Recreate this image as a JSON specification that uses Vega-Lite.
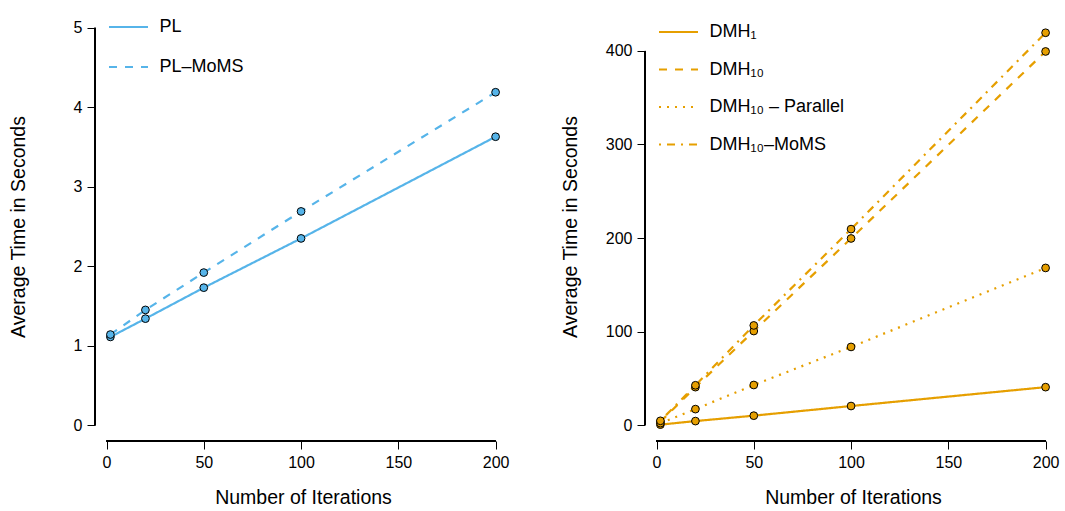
{
  "$schema": "https://vega.github.io/schema/vega-lite/v6.json",
  "padding": {"left": 8, "top": 6, "right": 2, "bottom": 2},
  "background": "white",
  "bounds": "flush",
  "spacing": 134,
  "config": {
    "view": {"stroke": null},
    "font": "Liberation Sans",
    "axis": {
      "grid": false, "domain": false, "tickColor": "black", "tickSize": 8, "tickWidth": 1,
      "labelFont": "Liberation Sans", "labelFontSize": 16, "labelColor": "black", "labelPadding": 5,
      "titleFont": "Liberation Sans", "titleFontSize": 19.5, "titleFontWeight": "normal", "titleColor": "black"
    },
    "legend": {
      "orient": "none", "title": null, "symbolType": "stroke", "symbolSize": 1521, "symbolStrokeWidth": 2.2,
      "labelFont": "Liberation Sans", "labelFontSize": 18, "labelColor": "black", "labelOffset": 10,
      "padding": 0
    }
  },
  "datasets": {
    "pl": [
      {"iter": 2, "time": 1.11, "method": "PL"},
      {"iter": 20, "time": 1.34, "method": "PL"},
      {"iter": 50, "time": 1.73, "method": "PL"},
      {"iter": 100, "time": 2.35, "method": "PL"},
      {"iter": 200, "time": 3.63, "method": "PL"},
      {"iter": 2, "time": 1.14, "method": "PL–MoMS"},
      {"iter": 20, "time": 1.45, "method": "PL–MoMS"},
      {"iter": 50, "time": 1.92, "method": "PL–MoMS"},
      {"iter": 100, "time": 2.69, "method": "PL–MoMS"},
      {"iter": 200, "time": 4.19, "method": "PL–MoMS"}
    ],
    "dmh": [
      {"iter": 2, "time": 0.4, "method": "DMH₁"},
      {"iter": 20, "time": 4.2, "method": "DMH₁"},
      {"iter": 50, "time": 10, "method": "DMH₁"},
      {"iter": 100, "time": 20.3, "method": "DMH₁"},
      {"iter": 200, "time": 40.5, "method": "DMH₁"},
      {"iter": 2, "time": 3.5, "method": "DMH₁₀"},
      {"iter": 20, "time": 40.5, "method": "DMH₁₀"},
      {"iter": 50, "time": 100.5, "method": "DMH₁₀"},
      {"iter": 100, "time": 199.5, "method": "DMH₁₀"},
      {"iter": 200, "time": 399.5, "method": "DMH₁₀"},
      {"iter": 2, "time": 2, "method": "DMH₁₀ – Parallel"},
      {"iter": 20, "time": 17, "method": "DMH₁₀ – Parallel"},
      {"iter": 50, "time": 42.8, "method": "DMH₁₀ – Parallel"},
      {"iter": 100, "time": 83.5, "method": "DMH₁₀ – Parallel"},
      {"iter": 200, "time": 168, "method": "DMH₁₀ – Parallel"},
      {"iter": 2, "time": 4.5, "method": "DMH₁₀–MoMS"},
      {"iter": 20, "time": 42.5, "method": "DMH₁₀–MoMS"},
      {"iter": 50, "time": 106.5, "method": "DMH₁₀–MoMS"},
      {"iter": 100, "time": 209.5, "method": "DMH₁₀–MoMS"},
      {"iter": 200, "time": 419.5, "method": "DMH₁₀–MoMS"}
    ]
  },
  "hconcat": [
    {
      "width": 416, "height": 429,
      "data": {"name": "pl"},
      "encoding": {
        "x": {"field": "iter", "type": "quantitative", "title": "Number of Iterations",
          "scale": {"domain": [-5.92, 207.92], "nice": false, "zero": false},
          "axis": {"values": [0, 50, 100, 150, 200], "titleY": 56, "titleBaseline": "middle"}},
        "y": {"field": "time", "type": "quantitative", "title": "Average Time in Seconds",
          "scale": {"domain": [-0.2, 5.2], "nice": false, "zero": false},
          "axis": {"values": [0, 1, 2, 3, 4, 5], "titleX": -77, "titleBaseline": "middle", "titleAngle": -90}}
      },
      "layer": [
        {"mark": {"type": "rule", "color": "black", "strokeWidth": 1},
         "encoding": {"x": {"datum": 0}, "x2": {"datum": 200}, "y": {"datum": -0.2}}},
        {"mark": {"type": "rule", "color": "black", "strokeWidth": 1},
         "encoding": {"x": {"datum": -5.92}, "y": {"datum": 0}, "y2": {"datum": 5}}},
        {"mark": {"type": "line", "color": "#56B4E9", "strokeWidth": 2.2},
         "encoding": {
           "detail": {"field": "method"},
           "strokeDash": {"field": "method", "type": "nominal",
             "scale": {"domain": ["PL", "PL–MoMS"], "range": [[1, 0], [8, 8]]},
             "legend": {"legendX": 12.5, "legendY": -6, "rowPadding": 10, "symbolStrokeColor": "#56B4E9"}}
         }},
        {"mark": {"type": "point", "filled": true, "fill": "#56B4E9", "stroke": "black", "strokeWidth": 1, "size": 60, "opacity": 1}}
      ]
    },
    {
      "width": 416, "height": 429,
      "data": {"name": "dmh"},
      "encoding": {
        "x": {"field": "iter", "type": "quantitative", "title": "Number of Iterations",
          "scale": {"domain": [-5.92, 207.92], "nice": false, "zero": false},
          "axis": {"values": [0, 50, 100, 150, 200], "titleY": 56, "titleBaseline": "middle"}},
        "y": {"field": "time", "type": "quantitative", "title": "Average Time in Seconds",
          "scale": {"domain": [-17.1, 441.7], "nice": false, "zero": false},
          "axis": {"values": [0, 100, 200, 300, 400], "titleX": -74.5, "titleBaseline": "middle", "titleAngle": -90}}
      },
      "layer": [
        {"mark": {"type": "rule", "color": "black", "strokeWidth": 1},
         "encoding": {"x": {"datum": 0}, "x2": {"datum": 200}, "y": {"datum": -17.1}}},
        {"mark": {"type": "rule", "color": "black", "strokeWidth": 1},
         "encoding": {"x": {"datum": -5.92}, "y": {"datum": 0}, "y2": {"datum": 400}}},
        {"mark": {"type": "line", "color": "#E69F00", "strokeWidth": 2.2},
         "encoding": {
           "detail": {"field": "method"},
           "strokeDash": {"field": "method", "type": "nominal",
             "scale": {"domain": ["DMH₁", "DMH₁₀", "DMH₁₀ – Parallel", "DMH₁₀–MoMS"], "range": [[1, 0], [8, 8], [2, 6], [2, 6, 8, 6]]},
             "legend": {"legendX": 12.5, "legendY": -1, "rowPadding": 7.5, "symbolStrokeColor": "#E69F00"}}
         }},
        {"mark": {"type": "point", "filled": true, "fill": "#E69F00", "stroke": "black", "strokeWidth": 1, "size": 60, "opacity": 1}}
      ]
    }
  ],
  "resolve": {"scale": {"strokeDash": "independent"}, "legend": {"strokeDash": "independent"}}
}
